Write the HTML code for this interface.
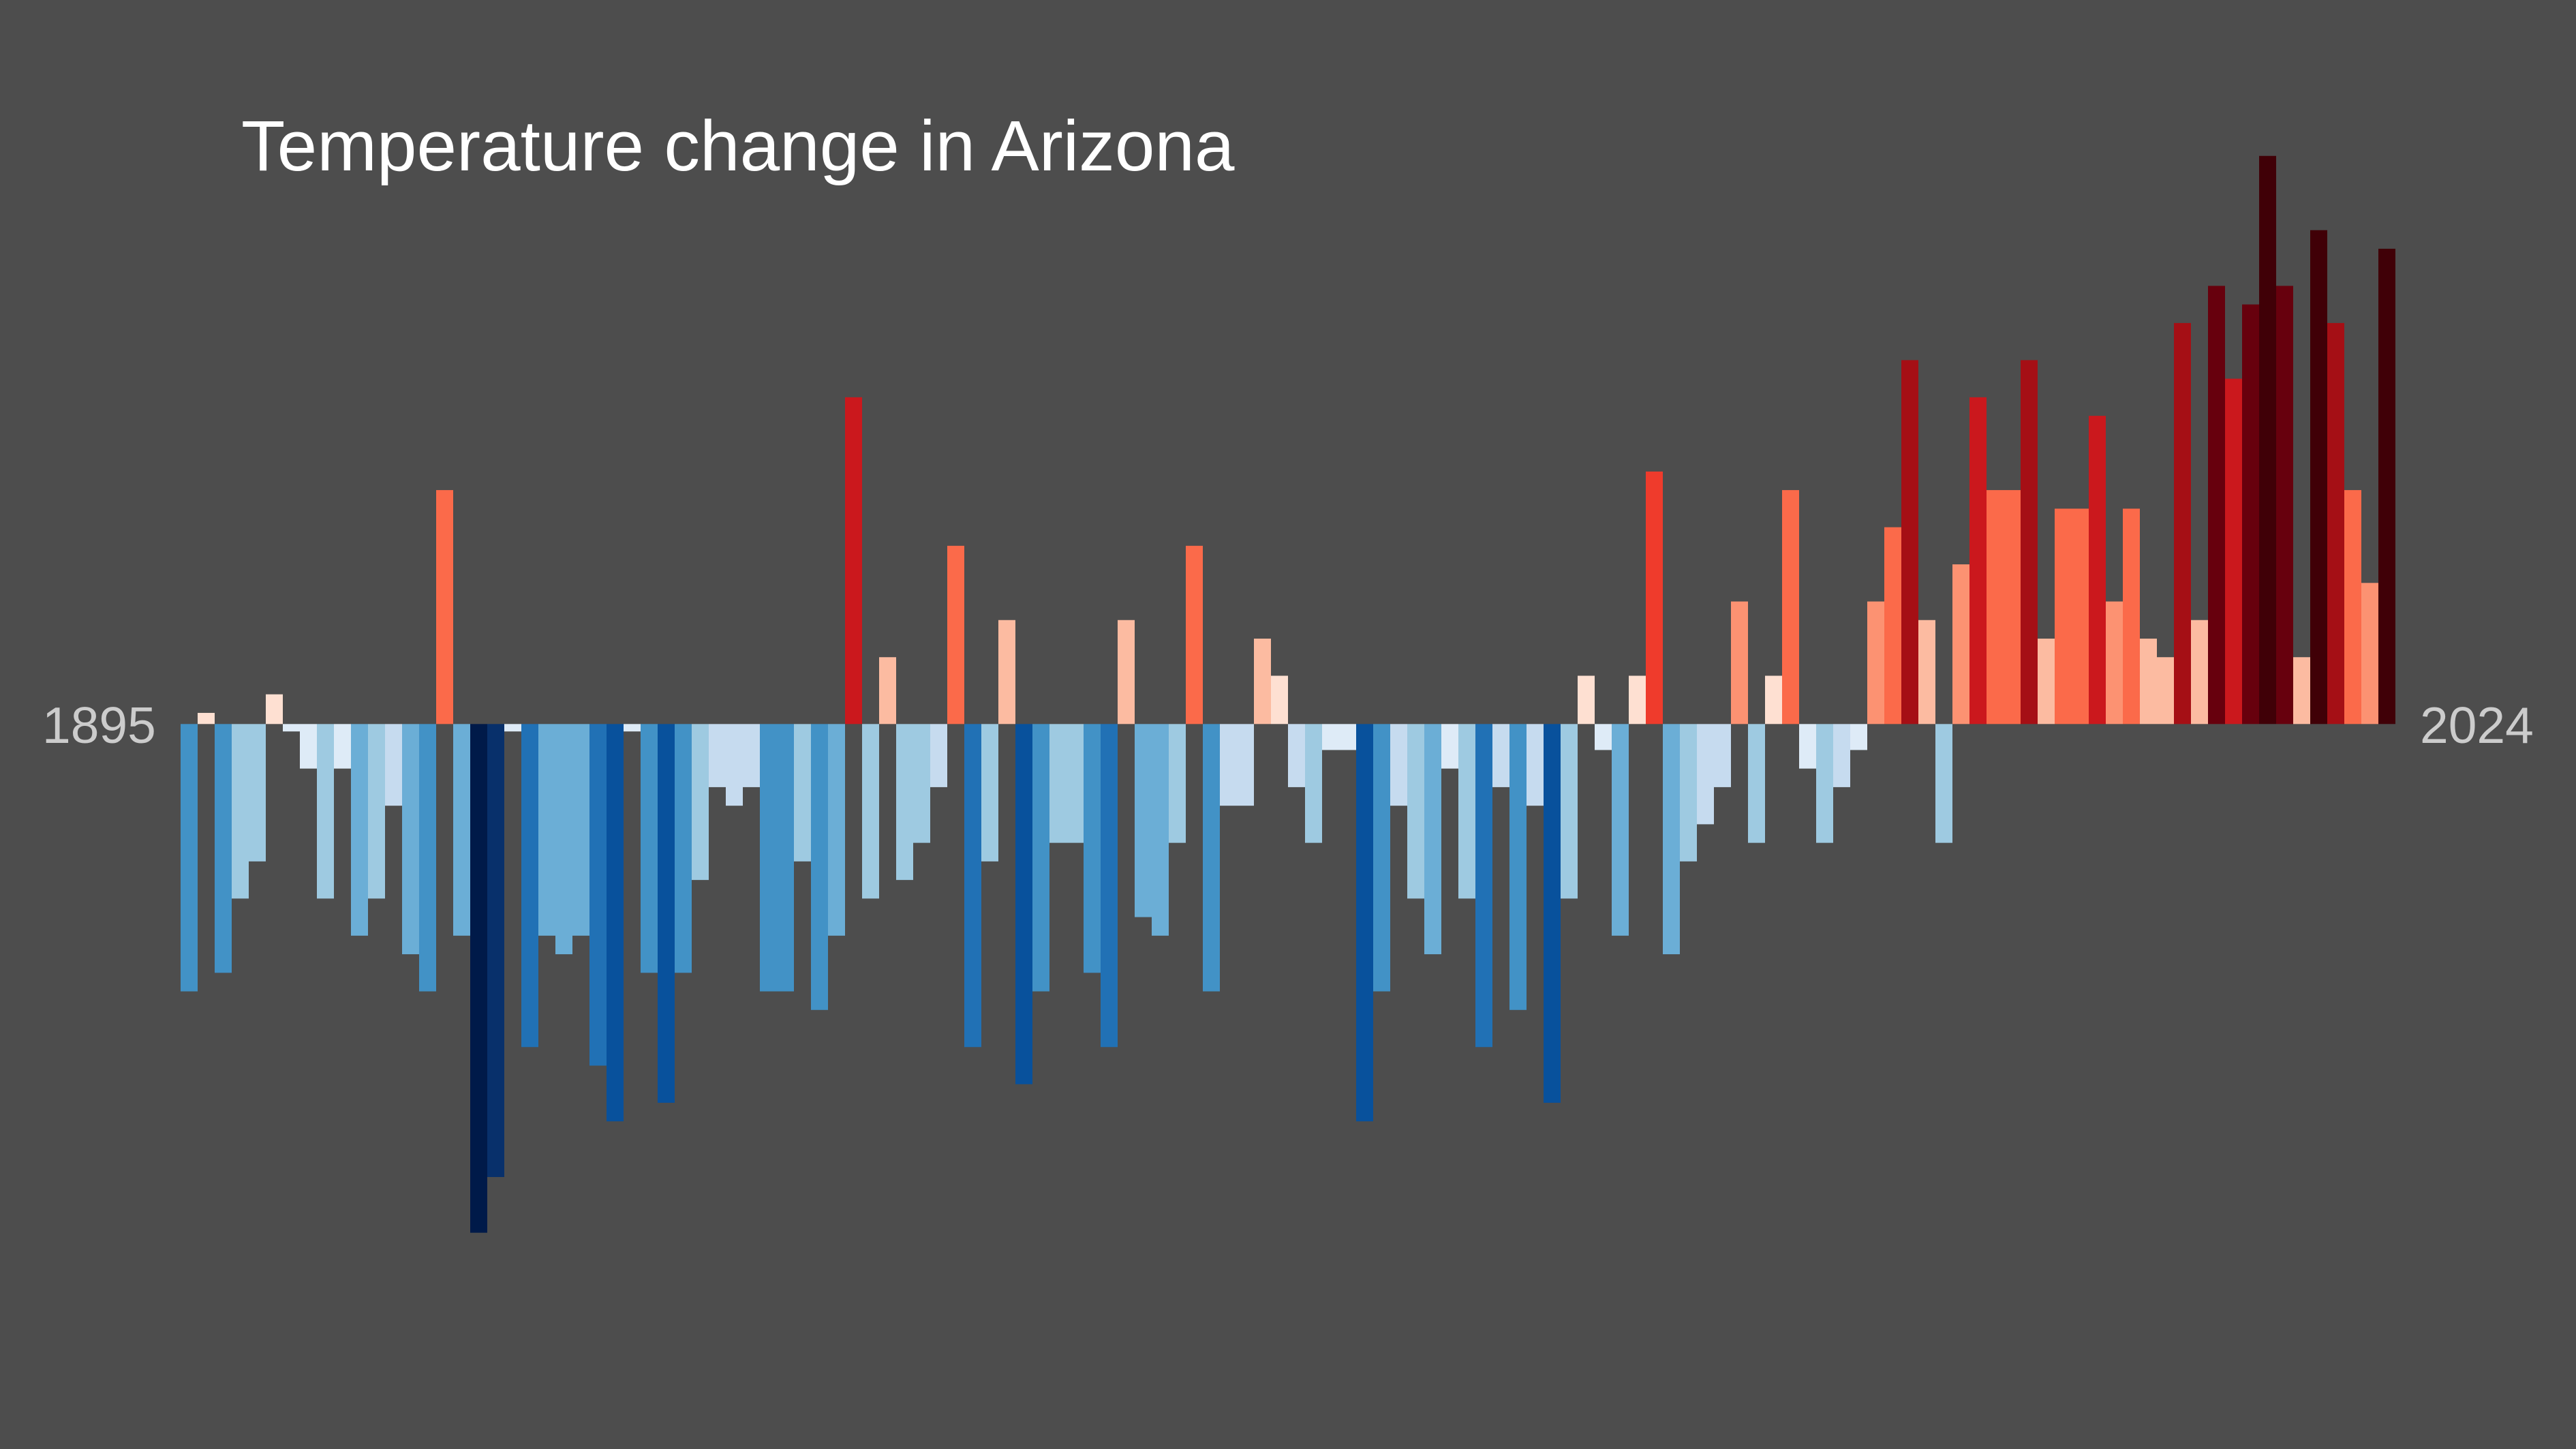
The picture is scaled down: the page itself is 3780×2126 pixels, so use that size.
<!DOCTYPE html>
<html lang="en">
<head>
<meta charset="utf-8">
<title>Temperature change in Arizona</title>
<style>
html, body { margin: 0; padding: 0; width: 3780px; height: 2126px; background: #4d4d4d; overflow: hidden; }
svg { display: block; }
text { font-family: "Liberation Sans", Arial, sans-serif; }
</style>
</head>
<body>
<svg id="chart" xmlns="http://www.w3.org/2000/svg" width="3780" height="2126" viewBox="0 0 3780 2126">
  <rect x="0" y="0" width="3780" height="2126" fill="#4d4d4d"></rect>
  <g id="bars"></g>
  <text x="354" y="250" font-size="105.3" fill="#ffffff">Temperature change in Arizona</text>
  <text x="62" y="1090" font-size="75" fill="#cccccc">1895</text>
  <text x="3551" y="1090" font-size="75" fill="#cccccc">2024</text>
</svg>
<script>
const firstYear = 1895;
const anomalies = [
  -1.44, 0.06, -1.34, -0.94, -0.74, 0.16, -0.04, -0.24, -0.94, -0.24,
  -1.14, -0.94, -0.44, -1.24, -1.44, 1.26, -1.14, -2.74, -2.44, -0.04,
  -1.74, -1.14, -1.24, -1.14, -1.84, -2.14, -0.04, -1.34, -2.04, -1.34,
  -0.84, -0.34, -0.44, -0.34, -1.44, -1.44, -0.74, -1.54, -1.14, 1.76,
  -0.94, 0.36, -0.84, -0.64, -0.34, 0.96, -1.74, -0.74, 0.56, -1.94,
  -1.44, -0.64, -0.64, -1.34, -1.74, 0.56, -1.04, -1.14, -0.64, 0.96,
  -1.44, -0.44, -0.44, 0.46, 0.26, -0.34, -0.64, -0.14, -0.14, -2.14,
  -1.44, -0.44, -0.94, -1.24, -0.24, -0.94, -1.74, -0.34, -1.54, -0.44,
  -2.04, -0.94, 0.26, -0.14, -1.14, 0.26, 1.36, -1.24, -0.74, -0.54,
  -0.34, 0.66, -0.64, 0.26, 1.26, -0.24, -0.64, -0.34, -0.14, 0.66,
  1.06, 1.96, 0.56, -0.64, 0.86, 1.76, 1.26, 1.26, 1.96, 0.46,
  1.16, 1.16, 1.66, 0.66, 1.16, 0.46, 0.36, 2.16, 0.56, 2.36,
  1.86, 2.26, 3.06, 2.36, 0.36, 2.66, 2.16, 1.26, 0.76, 2.56
];
const redRamp = ["#fee0d2", "#fcbba1", "#fc9272", "#fb6a4a", "#ef3b2c", "#cb181d", "#a50f15", "#67000d", "#400007"];
const blueRamp = ["#deebf7", "#c6dbef", "#9ecae1", "#6baed6", "#4292c6", "#2171b5", "#08519c", "#08306b", "#001a49"];
const colorStep = 0.319;

const plotLeft = 265;
const plotRight = 3515;
const zeroY = 1062.3;
const pxPerDegree = 272.4;

function xScale(i) {
  return plotLeft + i * (plotRight - plotLeft) / anomalies.length;
}
function yScale(v) {
  return zeroY - v * pxPerDegree;
}
function colorFor(v) {
  const ramp = v >= 0 ? redRamp : blueRamp;
  const idx = Math.min(ramp.length - 1, Math.floor(Math.abs(v) / colorStep));
  return ramp[idx];
}

const barsGroup = document.getElementById('bars');
anomalies.forEach(function (v, i) {
  const year = firstYear + i;
  const el = document.createElementNS('http://www.w3.org/2000/svg', 'rect');
  
  
  el.setAttribute('x', xScale(i));
  el.setAttribute('width', xScale(i + 1) - xScale(i));
  el.setAttribute('y', Math.min(yScale(v), yScale(0)));
  el.setAttribute('height', Math.abs(yScale(v) - yScale(0)));
  el.setAttribute('fill', colorFor(v));
  barsGroup.appendChild(el);
});
</script>
</body>
</html>
